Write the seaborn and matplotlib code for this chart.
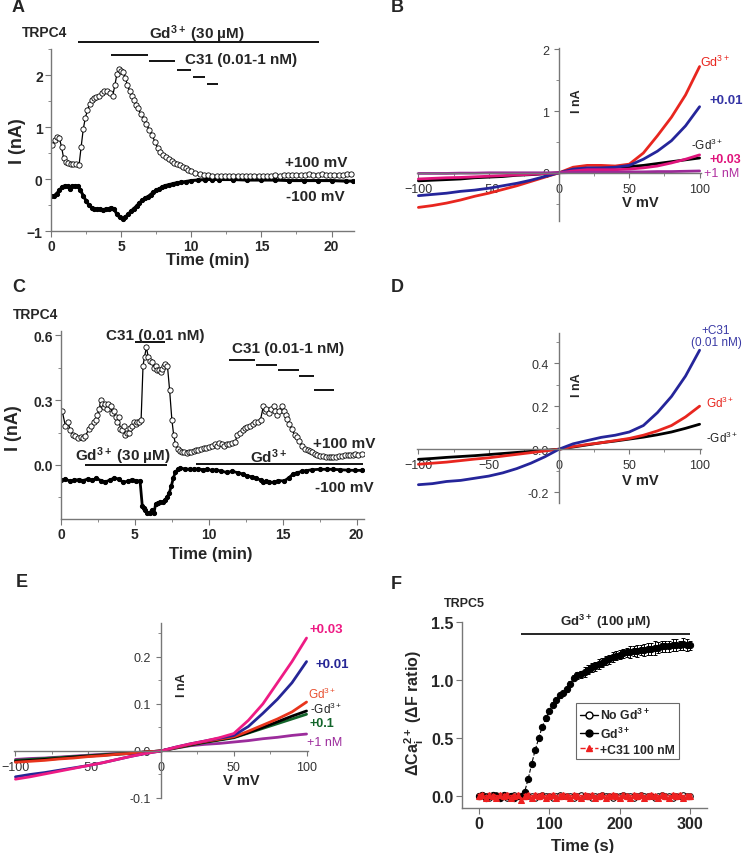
import matplotlib
matplotlib.use('Agg')
import matplotlib.pyplot as plt
from matplotlib.ticker import MultipleLocator, FormatStrFormatter
from matplotlib.lines import Line2D
import seaborn as sns

# --- DATA ---
# A: TRPC4 current vs time (min), +100 mV (open) and -100 mV (filled)
a_t_pos = [0.1, 0.3, 0.45, 0.6, 0.75, 0.9, 1.05, 1.2, 1.4, 1.6, 1.8, 2.0, 2.15, 2.3, 2.45, 2.6, 2.75, 2.9, 3.05, 3.2,
           3.4, 3.6, 3.8, 4.0, 4.2, 4.4, 4.55, 4.7, 4.85, 5.0, 5.15, 5.3, 5.45, 5.6, 5.75, 5.9, 6.05, 6.2, 6.4, 6.6,
           6.8, 7.0, 7.2, 7.4, 7.6, 7.8, 8.0, 8.2, 8.4, 8.6, 8.8, 9.0, 9.2, 9.4, 9.6, 9.8, 10.0, 10.3, 10.6, 10.9,
           11.2, 11.5, 11.8, 12.1, 12.4, 12.7, 13.0, 13.3, 13.6, 13.9, 14.2, 14.5, 14.8, 15.1, 15.4, 15.7, 16.0, 16.3, 16.6, 16.9,
           17.2, 17.5, 17.8, 18.1, 18.4, 18.7, 19.0, 19.3, 19.6, 19.9, 20.2, 20.5, 20.8, 21.1, 21.4]
a_pos = [0.66, 0.75, 0.80, 0.78, 0.62, 0.40, 0.33, 0.31, 0.29, 0.28, 0.28, 0.27, 0.62, 0.96, 1.18, 1.32, 1.45, 1.52, 1.55, 1.57,
         1.60, 1.66, 1.70, 1.70, 1.66, 1.60, 1.80, 2.02, 2.12, 2.08, 2.05, 1.95, 1.80, 1.70, 1.60, 1.52, 1.43, 1.36, 1.25, 1.15,
         1.05, 0.95, 0.85, 0.72, 0.60, 0.52, 0.46, 0.42, 0.38, 0.34, 0.31, 0.28, 0.26, 0.24, 0.21, 0.18, 0.15, 0.12, 0.10, 0.08,
         0.07, 0.06, 0.06, 0.05, 0.05, 0.05, 0.05, 0.06, 0.05, 0.05, 0.06, 0.05, 0.06, 0.06, 0.05, 0.06, 0.07, 0.06, 0.07, 0.08,
         0.07, 0.08, 0.07, 0.08, 0.09, 0.08, 0.08, 0.09, 0.08, 0.07, 0.08, 0.07, 0.08, 0.09, 0.10]
a_t_neg = [0.0, 0.2, 0.4, 0.6, 0.8, 1.0, 1.2, 1.35, 1.5, 1.7, 1.9, 2.1, 2.3, 2.5, 2.7, 2.9, 3.1, 3.3, 3.5, 3.7,
           3.9, 4.1, 4.3, 4.5, 4.7, 4.9, 5.1, 5.3, 5.5, 5.7, 5.9, 6.1, 6.3, 6.5, 6.7, 6.9, 7.1, 7.3, 7.5, 7.7,
           7.9, 8.1, 8.4, 8.7, 9.0, 9.3, 9.6, 10.0, 10.5, 11.0, 11.5, 12.0, 13.0, 14.0, 15.0, 16.0, 17.0, 18.0, 19.0, 20.0,
           21.0, 21.5]
a_neg = [-0.32, -0.33, -0.28, -0.22, -0.15, -0.13, -0.14, -0.20, -0.14, -0.13, -0.14, -0.22, -0.32, -0.42, -0.50, -0.55, -0.57, -0.58, -0.58, -0.59,
         -0.58, -0.57, -0.55, -0.58, -0.68, -0.74, -0.77, -0.73, -0.68, -0.62, -0.57, -0.52, -0.46, -0.41, -0.37, -0.34, -0.30, -0.25, -0.22, -0.19,
         -0.16, -0.13, -0.11, -0.09, -0.07, -0.06, -0.05, -0.03, -0.02, -0.01, -0.01, -0.01, -0.01, -0.02, -0.02, -0.02, -0.03, -0.03, -0.03, -0.03,
         -0.04, -0.04]
a_gd_period = [1.9, 19.1]
a_c31_starts = [4.27, 6.97, 8.97, 10.1, 11.1]
a_c31_ends = [6.9, 8.83, 10.0, 10.96, 11.9]

# C: TRPC4 current vs time (min)
c_t_pos = [0.08, 0.3, 0.45, 0.64, 0.8, 0.98, 1.15, 1.32, 1.5, 1.65, 1.88, 2.05, 2.2, 2.35, 2.45, 2.6, 2.7, 2.8, 2.9, 3.0,
           3.1, 3.2, 3.35, 3.45, 3.57, 3.7, 3.8, 3.9, 4.02, 4.15, 4.25, 4.36, 4.45, 4.58, 4.7, 4.81, 4.95, 5.05, 5.15, 5.3,
           5.42, 5.55, 5.65, 5.78, 5.9, 6.0, 6.16, 6.3, 6.4, 6.5, 6.65, 6.75, 6.84, 6.95, 7.06, 7.2, 7.35, 7.5, 7.62, 7.74,
           7.9, 8.07, 8.2, 8.35, 8.5, 8.65, 8.8, 8.97, 9.1, 9.3, 9.5, 9.65, 9.8, 10.0, 10.2, 10.4, 10.55, 10.7, 10.9, 11.05,
           11.2, 11.4, 11.6, 11.8, 11.9, 12.1, 12.3, 12.45, 12.6, 12.8, 13.0, 13.15, 13.3, 13.5, 13.7, 13.8, 13.9, 14.05, 14.2, 14.4,
           14.5, 14.6, 14.75, 14.95, 15.1, 15.2, 15.3, 15.45, 15.6, 15.8, 15.96, 16.1, 16.3, 16.5, 16.7, 16.86, 17.0, 17.2, 17.35, 17.5,
           17.7, 17.9, 18.1, 18.3, 18.4, 18.6, 18.8, 19.0, 19.2, 19.4, 19.56, 19.75, 19.9, 20.1, 20.35]
c_pos = [0.25, 0.18, 0.20, 0.16, 0.14, 0.135, 0.125, 0.128, 0.125, 0.133, 0.167, 0.18, 0.20, 0.21, 0.23, 0.26, 0.30, 0.28, 0.27, 0.28,
         0.26, 0.28, 0.275, 0.24, 0.25, 0.22, 0.20, 0.22, 0.167, 0.16, 0.18, 0.139, 0.15, 0.15, 0.17, 0.18, 0.20, 0.19, 0.20, 0.20,
         0.21, 0.46, 0.50, 0.545, 0.50, 0.48, 0.475, 0.45, 0.46, 0.44, 0.44, 0.43, 0.445, 0.46, 0.467, 0.46, 0.345, 0.21, 0.14, 0.097,
         0.075, 0.066, 0.06, 0.058, 0.055, 0.062, 0.06, 0.066, 0.07, 0.068, 0.075, 0.077, 0.08, 0.085, 0.09, 0.095, 0.09, 0.10, 0.095, 0.09,
         0.097, 0.095, 0.10, 0.105, 0.139, 0.15, 0.16, 0.17, 0.175, 0.18, 0.19, 0.20, 0.20, 0.21, 0.275, 0.25, 0.26, 0.24, 0.26, 0.275,
         0.25, 0.23, 0.25, 0.275, 0.25, 0.23, 0.213, 0.19, 0.167, 0.14, 0.128, 0.11, 0.09, 0.075, 0.07, 0.066, 0.058, 0.052, 0.048, 0.043,
         0.04, 0.036, 0.035, 0.036, 0.035, 0.038, 0.04, 0.042, 0.045, 0.044, 0.046, 0.048, 0.05, 0.048, 0.05]
c_t_neg = [0.0, 0.3, 0.6, 0.9, 1.2, 1.5, 1.8, 2.1, 2.4, 2.7, 3.0, 3.3, 3.6, 3.9, 4.2, 4.5, 4.8, 5.1, 5.35, 5.5,
           5.6, 5.7, 5.85, 6.0, 6.15, 6.3, 6.4, 6.55, 6.72, 6.9, 7.05, 7.17, 7.32, 7.47, 7.6, 7.74, 7.9, 8.07, 8.4, 8.7,
           9.0, 9.3, 9.6, 9.9, 10.2, 10.5, 10.8, 11.2, 11.6, 12.0, 12.3, 12.6, 12.9, 13.2, 13.5, 13.7, 13.9, 14.1, 14.4, 14.7,
           15.1, 15.4, 15.7, 16.0, 16.3, 16.6, 17.0, 17.5, 18.0, 18.4, 18.9, 19.4, 19.9, 20.35]
c_neg = [-0.07, -0.065, -0.075, -0.07, -0.068, -0.072, -0.065, -0.07, -0.062, -0.072, -0.078, -0.07, -0.06, -0.065, -0.08, -0.075, -0.068, -0.072, -0.075, -0.19,
         -0.20, -0.21, -0.22, -0.22, -0.21, -0.22, -0.18, -0.175, -0.173, -0.17, -0.16, -0.15, -0.13, -0.096, -0.06, -0.034, -0.02, -0.015, -0.018, -0.02,
         -0.02, -0.018, -0.022, -0.02, -0.025, -0.022, -0.028, -0.034, -0.03, -0.036, -0.042, -0.05, -0.055, -0.06, -0.07, -0.077, -0.075, -0.08, -0.08, -0.072,
         -0.074, -0.06, -0.042, -0.035, -0.03, -0.026, -0.022, -0.02, -0.02, -0.02, -0.022, -0.024, -0.025, -0.025]
c_c31_first = [5.03, 7.06]
c_c31_starts = [11.4, 13.2, 14.7, 16.1, 17.1]
c_c31_ends = [13.1, 14.6, 16.1, 17.1, 18.5]
c_gd_first = [1.6, 7.2]
c_gd_second = [9.15, 20.4]

# B, D, E: I-V curves (mV, nA)
iv_v = [-100, -90, -80, -70, -60, -50, -40, -30, -20, -10, 0, 10, 20, 30, 40, 50, 60, 70, 80, 90, 100]
b_ctrl = [-0.13, -0.12, -0.11, -0.10, -0.08, -0.07, -0.06, -0.04, -0.03, -0.015, 0.0, 0.04, 0.07, 0.08, 0.09, 0.10, 0.12, 0.15, 0.18, 0.21, 0.24]
b_gd = [-0.56, -0.53, -0.49, -0.44, -0.38, -0.33, -0.27, -0.21, -0.14, -0.07, 0.0, 0.09, 0.12, 0.12, 0.11, 0.14, 0.32, 0.60, 0.90, 1.26, 1.72]
b_c001 = [-0.37, -0.35, -0.33, -0.30, -0.28, -0.25, -0.21, -0.17, -0.12, -0.06, 0.0, 0.06, 0.08, 0.08, 0.09, 0.12, 0.22, 0.35, 0.52, 0.76, 1.07]
b_c003 = [-0.10, -0.09, -0.08, -0.075, -0.065, -0.055, -0.045, -0.035, -0.025, -0.012, 0.0, 0.03, 0.05, 0.05, 0.05, 0.06, 0.08, 0.11, 0.16, 0.22, 0.29]
b_c1 = [-0.01, -0.01, -0.01, -0.005, -0.005, 0.0, 0.0, 0.0, 0.0, 0.0, 0.0, 0.005, 0.01, 0.01, 0.01, 0.015, 0.015, 0.02, 0.02, 0.025, 0.03]

d_ctrl = [-0.047, -0.043, -0.038, -0.034, -0.03, -0.025, -0.02, -0.015, -0.01, -0.005, 0.0, 0.01, 0.02, 0.03, 0.038, 0.047, 0.056, 0.067, 0.08, 0.097, 0.116]
d_gd = [-0.07, -0.065, -0.06, -0.053, -0.046, -0.04, -0.032, -0.024, -0.016, -0.008, 0.0, 0.012, 0.022, 0.03, 0.04, 0.05, 0.065, 0.085, 0.11, 0.15, 0.20]
d_c31 = [-0.165, -0.16, -0.15, -0.145, -0.135, -0.125, -0.11, -0.09, -0.065, -0.035, 0.0, 0.025, 0.04, 0.055, 0.065, 0.08, 0.11, 0.17, 0.245, 0.34, 0.46]

e_ctrl = [-0.022, -0.02, -0.018, -0.016, -0.013, -0.011, -0.009, -0.007, -0.005, -0.002, 0.0, 0.007, 0.013, 0.019, 0.024, 0.029, 0.039, 0.05, 0.062, 0.074, 0.085]
e_gd = [-0.024, -0.022, -0.02, -0.017, -0.015, -0.012, -0.01, -0.007, -0.005, -0.002, 0.0, 0.007, 0.014, 0.02, 0.025, 0.03, 0.042, 0.055, 0.068, 0.083, 0.104]
e_c001 = [-0.055, -0.05, -0.046, -0.041, -0.036, -0.031, -0.025, -0.018, -0.011, -0.005, 0.0, 0.008, 0.015, 0.021, 0.027, 0.033, 0.052, 0.08, 0.11, 0.145, 0.19]
e_c003 = [-0.06, -0.055, -0.049, -0.043, -0.037, -0.031, -0.025, -0.018, -0.011, -0.005, 0.0, 0.008, 0.015, 0.021, 0.028, 0.037, 0.065, 0.10, 0.145, 0.19, 0.24]
e_c01 = [-0.02, -0.018, -0.016, -0.014, -0.012, -0.01, -0.008, -0.006, -0.004, -0.002, 0.0, 0.006, 0.012, 0.018, 0.023, 0.028, 0.038, 0.048, 0.058, 0.068, 0.078]
e_c1 = [-0.018, -0.016, -0.015, -0.013, -0.011, -0.009, -0.007, -0.005, -0.004, -0.002, 0.0, 0.006, 0.011, 0.014, 0.016, 0.019, 0.022, 0.026, 0.029, 0.033, 0.036]

# F: TRPC5 Ca2+ imaging, time in s (5 s sampling)
f_t = list(range(0, 305, 5))
f_gd = [0.0, 0.01, -0.01, 0.0, 0.01, 0.0, -0.01, 0.01, 0.0, 0.0, -0.01, 0.0,
        0.0, 0.04, 0.15, 0.28, 0.40, 0.50, 0.60, 0.67, 0.735, 0.79,
        0.83, 0.87, 0.89, 0.92, 0.97, 1.02, 1.04, 1.05, 1.07, 1.09,
        1.11, 1.12, 1.14, 1.15, 1.17, 1.18, 1.20, 1.21, 1.22, 1.23,
        1.24, 1.24, 1.25, 1.25, 1.26, 1.26, 1.27, 1.27, 1.28, 1.28,
        1.29, 1.29, 1.29, 1.30, 1.30, 1.30, 1.31, 1.30, 1.30]
f_gd_err = [0.01, 0.01, 0.01, 0.01, 0.01, 0.01, 0.01, 0.01, 0.01, 0.01, 0.01, 0.01,
            0.01, 0.01, 0.01, 0.01, 0.01, 0.01, 0.01, 0.02, 0.02, 0.02,
            0.02, 0.02, 0.02, 0.02, 0.02, 0.02, 0.03, 0.03, 0.04, 0.04,
            0.04, 0.04, 0.04, 0.04, 0.04, 0.04, 0.04, 0.04, 0.04, 0.04,
            0.04, 0.05, 0.04, 0.05, 0.04, 0.05, 0.05, 0.05, 0.06, 0.05,
            0.05, 0.05, 0.05, 0.05, 0.05, 0.04, 0.05, 0.05, 0.04]
f_nogd = [0.0, 0.01, 0.0, -0.01, 0.0, 0.01, 0.0, 0.0, -0.01, 0.0, 0.01, 0.0,
          0.0, 0.01, 0.0, 0.0, -0.01, 0.0, 0.01, 0.0, 0.0, -0.01,
          0.0, 0.01, 0.0, 0.0, 0.0, -0.01, 0.0, 0.01, 0.0, 0.0,
          -0.01, 0.0, 0.0, 0.01, 0.0, 0.0, -0.01, 0.0, 0.0, 0.01,
          0.0, 0.0, -0.01, 0.0, 0.01, 0.0, 0.0, 0.0, -0.01, 0.0,
          0.01, 0.0, 0.0, -0.01, 0.0, 0.0, 0.01, 0.0, 0.0]
f_c31 = [0.0, 0.01, -0.01, 0.01, 0.0, -0.01, 0.01, 0.0, 0.01, -0.01, 0.0, 0.01,
         -0.03, 0.0, 0.01, -0.01, 0.01, 0.0, 0.01, -0.01, 0.0, 0.01,
         -0.01, 0.0, 0.01, 0.0, -0.01, 0.01, 0.0, -0.01, 0.01, 0.0,
         0.01, -0.01, 0.0, 0.01, -0.01, 0.0, 0.01, 0.0, -0.01, 0.01,
         0.0, -0.01, 0.01, 0.0, 0.01, -0.01, 0.0, 0.01, 0.0, -0.01,
         0.01, 0.0, -0.01, 0.01, 0.0, 0.01, -0.01, 0.0, 0.0]
f_c31_err = [0.02] * len(f_t)
f_gd_period = [60, 300]

# --- STYLE ---
sns.set_style('ticks')
plt.rcParams['font.family'] = ['Liberation Sans', 'DejaVu Sans']
plt.rcParams['mathtext.fontset'] = 'custom'
plt.rcParams['mathtext.rm'] = 'Liberation Sans'
plt.rcParams['mathtext.bf'] = 'Liberation Sans:bold'
plt.rcParams['mathtext.it'] = 'Liberation Sans:italic'

W, H = 745, 854
fig = plt.figure(figsize=(W / 100, H / 100), dpi=100)
SP = '#777777'


def box(l, t, r, b):
    # axes from pixel edges
    return fig.add_axes([l / W, 1 - b / H, (r - l) / W, (b - t) / H])


def txt(x, y, s, **kw):
    kw.setdefault('ha', 'left')
    kw.setdefault('va', 'center')
    fig.text(x / W, 1 - y / H, s, **kw)


def trace_style(ax, size=10):
    sns.despine(ax=ax)
    for s in ['left', 'bottom']:
        ax.spines[s].set_color(SP)
        ax.spines[s].set_linewidth(1.0)
    ax.tick_params(which='both', direction='out', color=SP, labelsize=size, pad=2)
    ax.tick_params(which='major', length=4)
    ax.tick_params(which='minor', length=2.5)
    for lab in ax.get_xticklabels() + ax.get_yticklabels():
        lab.set_fontweight('bold')


def iv_style(ax, major, minor):
    sns.despine(ax=ax)
    ax.spines['left'].set_position(('data', 0))
    ax.spines['bottom'].set_position(('data', 0))
    for s in ['left', 'bottom']:
        ax.spines[s].set_color(SP)
        ax.spines[s].set_linewidth(1.0)
    ax.xaxis.set_major_locator(MultipleLocator(50))
    ax.xaxis.set_minor_locator(MultipleLocator(25))
    ax.yaxis.set_major_locator(MultipleLocator(major))
    ax.yaxis.set_minor_locator(MultipleLocator(minor))
    ax.tick_params(which='both', direction='out', color=SP, labelsize=9, labelcolor='#333333')
    ax.tick_params(which='major', length=3.5)
    ax.tick_params(which='minor', length=2)


def iv_line(ax, y, color, lw=2.0):
    sns.lineplot(x=iv_v, y=y, ax=ax, color=color, lw=lw, estimator=None, sort=False)


def bar(ax, x0, x1, y, lw=1.3):
    ax.plot([x0, x1], [y, y], color='k', lw=lw, clip_on=False, solid_capstyle='butt')


# --- A ---
axA = box(51, 50, 354, 232)
sns.lineplot(x=a_t_neg, y=a_neg, ax=axA, color='k', lw=2.2, marker='o', markersize=3,
             markeredgecolor='k', estimator=None, sort=False)
sns.lineplot(x=a_t_pos, y=a_pos, ax=axA, color='k', lw=0.9, marker='o', markersize=3.8,
             markerfacecolor='white', markeredgecolor='k', markeredgewidth=0.6, estimator=None, sort=False)
axA.set_xlim(0, 21.6)
axA.set_ylim(-1, 2.5)
axA.xaxis.set_major_locator(MultipleLocator(5))
axA.xaxis.set_minor_locator(MultipleLocator(2.5))
axA.yaxis.set_major_locator(MultipleLocator(1))
axA.yaxis.set_minor_locator(MultipleLocator(0.5))
trace_style(axA)
bar(axA, a_gd_period[0], a_gd_period[1], 2.63)
for i, (s, e) in enumerate(zip(a_c31_starts, a_c31_ends)):
    bar(axA, s, e, [2.38, 2.27, 2.1, 1.96, 1.83][i])

# --- B ---
axB = box(417, 49, 701, 222)
iv_line(axB, b_ctrl, 'black')
iv_line(axB, b_gd, '#e8261f')
iv_line(axB, b_c001, '#25259a')
iv_line(axB, b_c003, '#e0147c')
iv_line(axB, b_c1, '#9b2a98')
axB.set_xlim(-101, 101)
axB.set_ylim(-0.78, 2.02)
iv_style(axB, 1, 0.5)

# --- C ---
axC = box(61, 332, 364, 520)
sns.lineplot(x=c_t_neg, y=c_neg, ax=axC, color='k', lw=2.0, marker='o', markersize=3,
             markeredgecolor='k', estimator=None, sort=False)
sns.lineplot(x=c_t_pos, y=c_pos, ax=axC, color='k', lw=0.9, marker='o', markersize=3.8,
             markerfacecolor='white', markeredgecolor='k', markeredgewidth=0.6, estimator=None, sort=False)
axC.set_xlim(0, 20.5)
axC.set_ylim(-0.25, 0.62)
axC.xaxis.set_major_locator(MultipleLocator(5))
axC.xaxis.set_minor_locator(MultipleLocator(2.5))
axC.yaxis.set_major_locator(MultipleLocator(0.3))
axC.yaxis.set_minor_locator(MultipleLocator(0.15))
axC.yaxis.set_major_formatter(FormatStrFormatter('%.1f'))
trace_style(axC)
bar(axC, c_c31_first[0], c_c31_first[1], 0.57)
for i, (s, e) in enumerate(zip(c_c31_starts, c_c31_ends)):
    bar(axC, s, e, [0.486, 0.463, 0.44, 0.41, 0.347][i])
bar(axC, c_gd_first[0], c_gd_first[1], 0.0)
bar(axC, c_gd_second[0], c_gd_second[1], 0.004)

# --- D ---
axD = box(417, 334, 701, 504)
iv_line(axD, d_ctrl, 'black')
iv_line(axD, d_gd, '#e8261f')
iv_line(axD, d_c31, '#25259a')
axD.set_xlim(-101, 101)
axD.set_ylim(-0.25, 0.54)
iv_style(axD, 0.2, 0.1)
axD.yaxis.set_major_formatter(FormatStrFormatter('%.1f'))

# --- E ---
axE = box(14, 624, 308, 799)
iv_line(axE, e_c1, '#9c2c9c')
iv_line(axE, e_c01, '#13652b')
iv_line(axE, e_ctrl, 'black')
iv_line(axE, e_gd, '#e8341c')
iv_line(axE, e_c001, '#262696')
iv_line(axE, e_c003, '#ee1b84')
axE.set_xlim(-101, 101)
axE.set_ylim(-0.1, 0.272)
iv_style(axE, 0.1, 0.05)
axE.yaxis.set_major_formatter(FormatStrFormatter('%.1f'))

# --- F ---
axF = box(462, 623, 707, 809)
axF.errorbar(f_t, f_gd, yerr=f_gd_err, fmt='none', ecolor='k', elinewidth=0.7, capsize=1.5, capthick=0.7)
sns.lineplot(x=f_t, y=f_nogd, ax=axF, color='k', lw=0.8, marker='o', markersize=4,
             markerfacecolor='white', markeredgecolor='k', estimator=None, sort=False)
sns.lineplot(x=f_t, y=f_gd, ax=axF, color='k', lw=0.8, ls='--', marker='o', markersize=4.5,
             markerfacecolor='k', markeredgecolor='k', estimator=None, sort=False)
axF.errorbar(f_t, f_c31, yerr=f_c31_err, fmt='none', ecolor='#ee2020', elinewidth=0.7, capsize=1.5)
sns.lineplot(x=f_t, y=f_c31, ax=axF, color='#ee2020', lw=0.9, ls='--', marker='^', markersize=4,
             markerfacecolor='#ee2020', markeredgecolor='#ee2020', estimator=None, sort=False)
axF.set_xlim(-24, 324)
axF.set_ylim(-0.1, 1.5)
axF.set_xticks([0, 100, 200, 300])
axF.set_yticks([0.0, 0.5, 1.0, 1.5])
axF.yaxis.set_major_formatter(FormatStrFormatter('%.1f'))
trace_style(axF, size=11.5)
bar(axF, f_gd_period[0], f_gd_period[1], 1.40, lw=1.2)
handles = [
    Line2D([], [], color='k', lw=1, marker='o', ms=5, mfc='white', mec='k'),
    Line2D([], [], color='k', lw=1, marker='o', ms=5, mfc='k', mec='k'),
    Line2D([], [], color='#ee2020', lw=1, ls='--', marker='^', ms=5, mfc='#ee2020', mec='#ee2020'),
]
labels = [r'No Gd$^{\mathbf{3+}}$', r'Gd$^{\mathbf{3+}}$', '+C31 100 nM']
leg = axF.legend(handles, labels, loc='lower left', bbox_to_anchor=(0.465, 0.262), frameon=True,
                 fancybox=False, edgecolor='#444444', handlelength=1.5, handletextpad=0.2,
                 borderpad=0.3, labelspacing=0.25, borderaxespad=0,
                 prop={'weight': 'bold', 'size': 8.8})
leg.get_frame().set_linewidth(0.8)

# --- TEXT ---
B = dict(fontweight='bold')
for letter, x, y in [('A', 12, 8), ('B', 391, 8), ('C', 12, 287), ('D', 391, 288), ('E', 16, 583), ('F', 391, 585)]:
    txt(x, y, letter, fontsize=13, **B)

txt(22, 33, 'TRPC4', fontsize=10, **B)
txt(197, 34, r'Gd$^{\mathbf{3+}}$ (30 µM)', fontsize=11, ha='center', **B)
txt(185, 60, 'C31 (0.01-1 nM)', fontsize=11, **B)
txt(347, 163, '+100 mV', fontsize=11, ha='right', **B)
txt(345, 197, '-100 mV', fontsize=11, ha='right', **B)
txt(208, 261, 'Time (min)', fontsize=12, ha='center', **B)
txt(18, 141, 'I (nA)', fontsize=13, ha='center', rotation=90, **B)

txt(700, 62, r'Gd$^{3+}$', fontsize=9, color='#e8261f')
txt(709, 101, '+0.01', fontsize=9.5, color='#3535a5', **B)
txt(691, 145, r'-Gd$^{3+}$', fontsize=8.5, color='#222222')
txt(709, 160, '+0.03', fontsize=9, color='#e0147c', **B)
txt(704, 174, '+1 nM', fontsize=9, color='#b02fa0')
txt(577, 101, 'I nA', fontsize=9, ha='center', rotation=90, **B)
txt(640, 203, 'V mV', fontsize=10.5, ha='center', **B)

txt(13, 315, 'TRPC4', fontsize=10, **B)
txt(155, 336, 'C31 (0.01 nM)', fontsize=11, ha='center', **B)
txt(288, 349, 'C31 (0.01-1 nM)', fontsize=11, ha='center', **B)
txt(123, 456, r'Gd$^{\mathbf{3+}}$ (30 µM)', fontsize=11, ha='center', **B)
txt(268, 457, r'Gd$^{\mathbf{3+}}$', fontsize=11, ha='center', **B)
txt(313, 444, '+100 mV', fontsize=11, **B)
txt(315, 488, '-100 mV', fontsize=11, **B)
txt(211, 555, 'Time (min)', fontsize=12, ha='center', **B)
txt(14, 428, 'I (nA)', fontsize=13, ha='center', rotation=90, **B)

txt(716, 337, '+C31\n(0.01 nM)', fontsize=8.5, ha='center', color='#3a3aa5', linespacing=1.1)
txt(706, 403, r'Gd$^{3+}$', fontsize=8.5, color='#e8261f')
txt(706, 438, r'-Gd$^{3+}$', fontsize=8.5, color='#222222')
txt(577, 385, 'I nA', fontsize=9, ha='center', rotation=90, **B)
txt(640, 481, 'V mV', fontsize=10.5, ha='center', **B)

txt(310, 630, '+0.03', fontsize=9.5, color='#ee1b84', **B)
txt(315, 665, '+0.01', fontsize=9.5, color='#262696', **B)
txt(308, 694, r'Gd$^{3+}$', fontsize=8.5, color='#e85030')
txt(310, 709, r'-Gd$^{3+}$', fontsize=8.5, color='#222222')
txt(310, 724, '+0.1', fontsize=9, color='#13652b', **B)
txt(307, 743, '+1 nM', fontsize=9, color='#9c2c9c')
txt(182, 685, 'I nA', fontsize=9, ha='center', rotation=90, **B)
txt(241, 781, 'V mV', fontsize=10.5, ha='center', **B)

txt(444, 604, 'TRPC5', fontsize=9, **B)
txt(605, 622, r'Gd$^{\mathbf{3+}}$ (100 µM)', fontsize=9.5, ha='center', **B)
txt(583, 847, 'Time (s)', fontsize=12, ha='center', **B)
txt(414, 713, r'ΔCa$^{\mathbf{2+}}_{\mathbf{i}}$ (ΔF ratio)', fontsize=11.5, ha='center', rotation=90, **B)

fig.savefig('out.png', dpi=100)
